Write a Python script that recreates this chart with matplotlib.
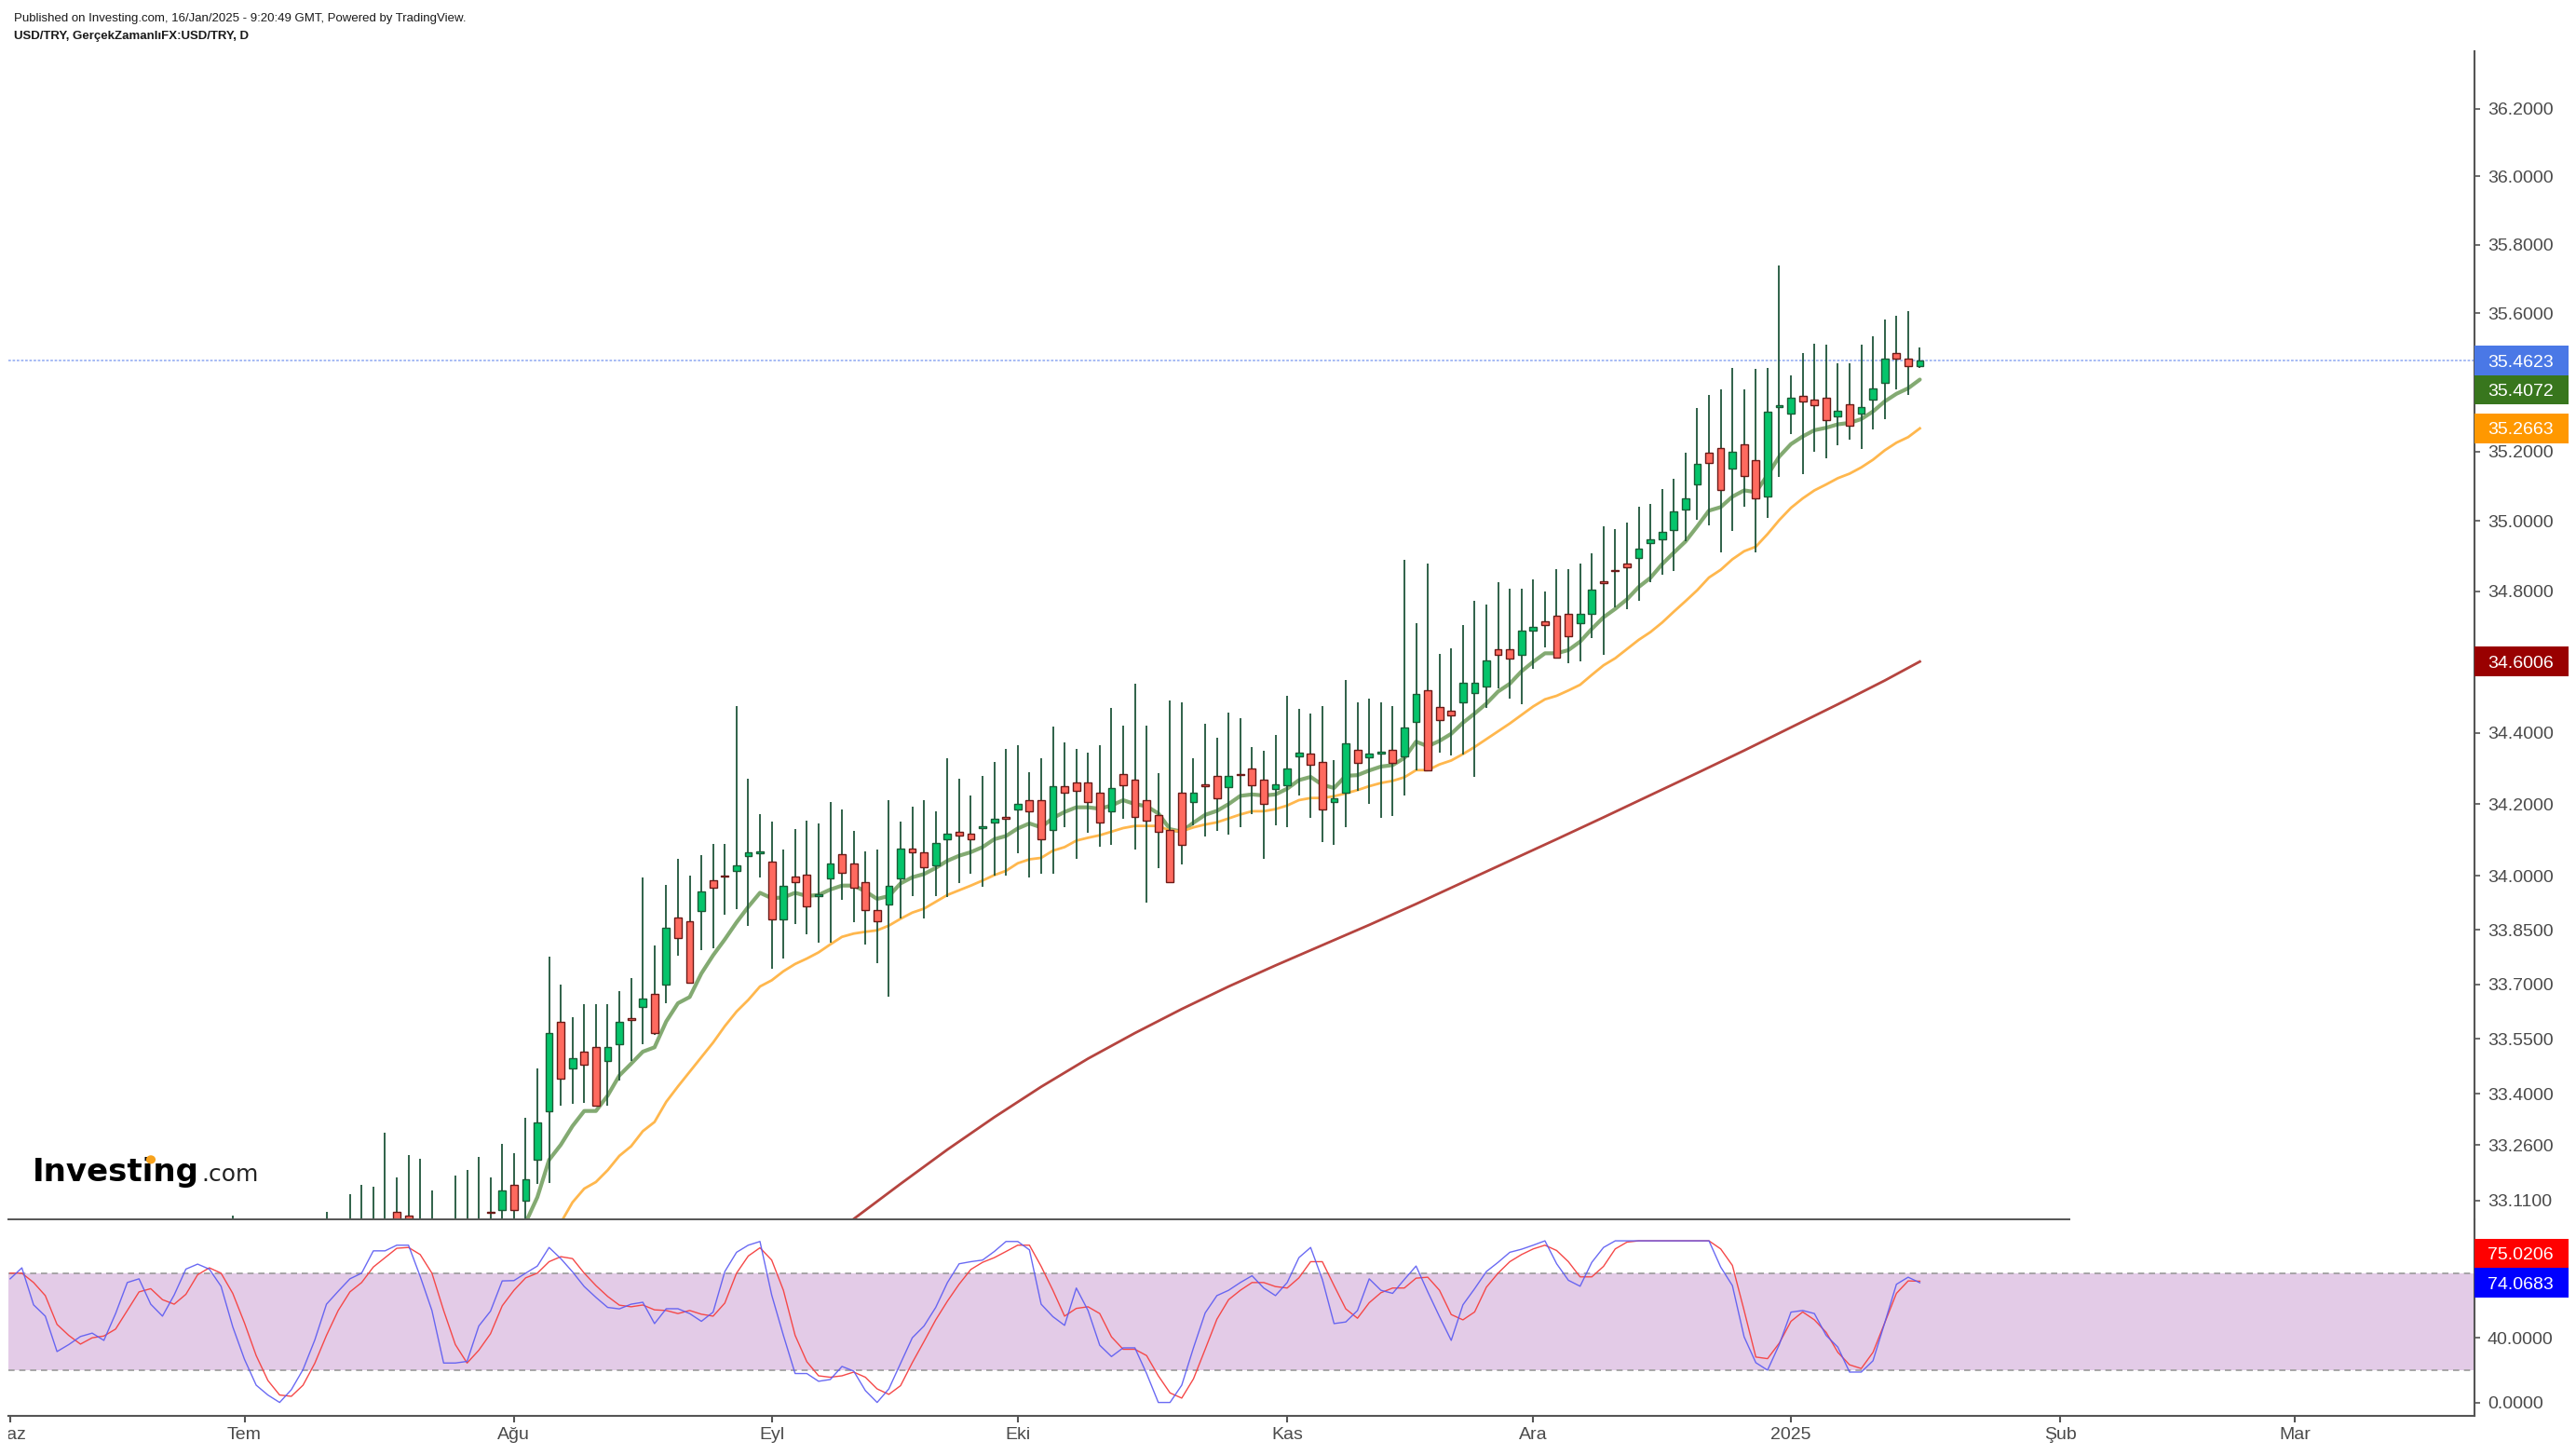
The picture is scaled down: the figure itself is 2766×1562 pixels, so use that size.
import matplotlib
matplotlib.use("Agg")
import matplotlib.pyplot as plt
import numpy as np
from matplotlib.patches import Rectangle, Ellipse
from matplotlib.transforms import IdentityTransform, Bbox, offset_copy
from matplotlib.ticker import FixedLocator, FixedFormatter, NullLocator

plt.rcParams['font.family'] = ['Liberation Sans', 'DejaVu Sans']

# ---------------- data ----------------
# bar index 0 = 3 Jun 2024, one bar per weekday
month_labels = ['Haz', 'Tem', 'Ağu', 'Eyl', 'Eki', 'Kas', 'Ara', '2025', 'Şub', 'Mar']
month_index = [0, 20, 43, 65, 86, 109, 130, 152, 175, 195]

price_ticks = [33.11, 33.26, 33.40, 33.55, 33.70, 33.85, 34.00, 34.20, 34.40, 34.60,
               34.80, 35.00, 35.20, 35.40, 35.60, 35.80, 36.00, 36.20]
price_tick_labels = ['33.1100', '33.2600', '33.4000', '33.5500', '33.7000', '33.8500',
                     '34.0000', '34.2000', '34.4000', '', '34.8000', '35.0000', '35.2000',
                     '', '35.6000', '35.8000', '36.0000', '36.2000']

# OHLC, bars 19..163 (None = hidden below the visible price range)
candle_start = 19
opens = [None, None, None, None, None, None, None, None, None, None,          # 19-28
         None, None, None, None, 33.080, 33.070, None, None, None, None,      # 29-38
         None, None, 33.078, 33.084, 33.151, 33.110,                          # 39-44
         33.221, 33.352, 33.597, 33.469, 33.516, 33.527, 33.490, 33.535, 33.606, 33.637,
         33.674, 33.699, 33.885, 33.875, 33.903, 33.988, 34.000, 34.013, 34.055, 34.064,
         34.040, 33.880, 33.999, 34.004, 33.946, 33.992, 34.061, 34.035, 33.983, 33.906,
         33.920, 33.993, 34.076, 34.066, 34.029, 34.102, 34.123, 34.118, 34.135, 34.148,
         34.163, 34.185, 34.212, 34.212, 34.127, 34.249, 34.260, 34.260, 34.232, 34.180,
         34.285, 34.269, 34.212, 34.170, 34.129, 34.232, 34.206, 34.253, 34.280, 34.248,
         34.284, 34.300, 34.269, 34.243, 34.253, 34.333, 34.342, 34.317, 34.206, 34.233,
         34.353, 34.331, 34.343, 34.353, 34.334, 34.430, 34.520, 34.473, 34.462, 34.486,
         34.513, 34.530, 34.636, 34.636, 34.619, 34.689, 34.715, 34.731, 34.736, 34.709,
         34.736, 34.827, 34.861, 34.879, 34.895, 34.936, 34.947, 34.974, 35.033, 35.105,
         35.195, 35.210, 35.152, 35.220, 35.174, 35.070, 35.329, 35.310, 35.360, 35.350,
         35.355, 35.300, 35.335, 35.310, 35.350, 35.398, 35.484, 35.468, 35.446]
highs = [33.070, None, None, None, None, None, None, None, 33.080, None,      # 19-28
         33.128, 33.153, 33.147, 33.295, 33.173, 33.234, 33.223, 33.137, None, 33.177,  # 29-38
         33.193, 33.228, 33.173, 33.264, 33.237, 33.335,                      # 39-44
         33.468, 33.775, 33.700, 33.610, 33.646, 33.646, 33.646, 33.682, 33.717, 33.995,
         33.808, 33.975, 34.047, 34.000, 34.057, 34.089, 34.089, 34.474, 34.270, 34.171,
         34.150, 34.072, 34.130, 34.155, 34.145, 34.207, 34.186, 34.124, 34.067, 34.072,
         34.212, 34.150, 34.192, 34.212, 34.181, 34.328, 34.270, 34.223, 34.280, 34.318,
         34.355, 34.366, 34.290, 34.328, 34.416, 34.374, 34.355, 34.344, 34.366, 34.470,
         34.420, 34.537, 34.420, 34.287, 34.490, 34.485, 34.328, 34.426, 34.385, 34.457,
         34.442, 34.361, 34.350, 34.395, 34.505, 34.468, 34.453, 34.474, 34.323, 34.548,
         34.485, 34.495, 34.485, 34.474, 34.889, 34.710, 34.878, 34.621, 34.637, 34.705,
         34.774, 34.763, 34.827, 34.806, 34.806, 34.833, 34.800, 34.864, 34.864, 34.880,
         34.907, 34.985, 34.976, 34.997, 35.040, 35.050, 35.093, 35.120, 35.195, 35.325,
         35.362, 35.378, 35.442, 35.378, 35.437, 35.442, 35.740, 35.420, 35.485, 35.512,
         35.507, 35.453, 35.453, 35.507, 35.533, 35.582, 35.593, 35.605, 35.500]
lows = [None] * 26 + [                                                      # 19-44 hidden
         33.154, 33.158, 33.367, 33.372, 33.376, 33.367, 33.367, 33.435, 33.490, 33.535,
         33.561, 33.647, 33.780, 33.704, 33.795, 33.800, 33.893, 33.908, 33.862, 33.996,
         33.743, 33.770, 33.867, 33.837, 33.816, 33.816, 33.934, 33.872, 33.810, 33.759,
         33.666, 33.883, 33.945, 33.883, 33.945, 33.940, 33.980, 34.006, 33.970, 34.001,
         34.001, 34.064, 33.996, 34.006, 34.006, 34.136, 34.048, 34.120, 34.080, 34.085,
         34.158, 34.074, 33.925, 34.022, 33.982, 34.032, 34.142, 34.110, 34.126, 34.115,
         34.136, 34.173, 34.048, 34.142, 34.136, 34.225, 34.162, 34.095, 34.085, 34.136,
         34.236, 34.200, 34.162, 34.168, 34.225, 34.294, 34.295, 34.345, 34.335, 34.340,
         34.277, 34.470, 34.524, 34.497, 34.481, 34.580, 34.640, 34.613, 34.595, 34.600,
         34.668, 34.620, 34.755, 34.750, 34.772, 34.825, 34.846, 34.857, 34.942, 35.004,
         34.988, 34.910, 34.972, 35.040, 34.910, 35.010, 35.127, 35.250, 35.135, 35.200,
         35.180, 35.218, 35.235, 35.207, 35.262, 35.293, 35.380, 35.364, 35.440]
closes = [None] * 22 + [33.077, 33.136, 33.084, 33.167] + [               # 19-44
         33.323, 33.567, 33.442, 33.496, 33.480, 33.367, 33.527, 33.597, 33.604, 33.660,
         33.566, 33.855, 33.828, 33.704, 33.957, 33.966, 33.998, 34.030, 34.066, 34.066,
         33.880, 33.973, 33.982, 33.915, 33.947, 34.035, 34.008, 33.967, 33.905, 33.874,
         33.973, 34.076, 34.065, 34.025, 34.092, 34.118, 34.112, 34.102, 34.137, 34.160,
         34.161, 34.201, 34.180, 34.102, 34.249, 34.233, 34.238, 34.206, 34.149, 34.244,
         34.253, 34.164, 34.154, 34.123, 33.982, 34.087, 34.232, 34.251, 34.217, 34.280,
         34.282, 34.253, 34.200, 34.254, 34.300, 34.344, 34.310, 34.184, 34.217, 34.369,
         34.316, 34.342, 34.345, 34.316, 34.415, 34.510, 34.295, 34.435, 34.450, 34.540,
         34.540, 34.605, 34.619, 34.608, 34.689, 34.700, 34.704, 34.613, 34.672, 34.736,
         34.805, 34.825, 34.857, 34.868, 34.922, 34.948, 34.969, 35.028, 35.065, 35.165,
         35.167, 35.090, 35.200, 35.130, 35.065, 35.315, 35.331, 35.355, 35.345, 35.332,
         35.290, 35.318, 35.275, 35.328, 35.382, 35.468, 35.467, 35.446, 35.4623]

# fast moving average (green), bars 44..163
ma_fast_start = 44
ma_fast = [33.050, 33.119, 33.220, 33.261, 33.312, 33.353, 33.353, 33.395, 33.450, 33.482,
           33.515, 33.527, 33.598, 33.648, 33.665, 33.730, 33.780, 33.824, 33.871, 33.914,
           33.953, 33.938, 33.940, 33.953, 33.944, 33.947, 33.962, 33.973, 33.973, 33.957,
           33.936, 33.944, 33.979, 33.996, 34.005, 34.022, 34.042, 34.056, 34.066, 34.080,
           34.102, 34.111, 34.132, 34.146, 34.135, 34.161, 34.178, 34.191, 34.191, 34.187,
           34.196, 34.211, 34.200, 34.194, 34.174, 34.130, 34.123, 34.148, 34.170, 34.181,
           34.200, 34.223, 34.227, 34.224, 34.227, 34.243, 34.267, 34.276, 34.254, 34.245,
           34.279, 34.281, 34.294, 34.305, 34.309, 34.329, 34.375, 34.362, 34.377, 34.397,
           34.428, 34.454, 34.482, 34.516, 34.538, 34.573, 34.600, 34.624, 34.624, 34.633,
           34.657, 34.693, 34.726, 34.750, 34.777, 34.812, 34.838, 34.877, 34.910, 34.942,
           34.985, 35.030, 35.040, 35.070, 35.088, 35.083, 35.132, 35.185, 35.221, 35.243,
           35.261, 35.268, 35.278, 35.282, 35.293, 35.315, 35.344, 35.366, 35.382, 35.4072]

# medium moving average (orange), bars 47..163
ma_mid_start = 47
ma_mid = [33.050, 33.105, 33.142, 33.160, 33.192, 33.231, 33.257, 33.298, 33.323, 33.378,
          33.420, 33.460, 33.500, 33.540, 33.585, 33.625, 33.657, 33.694, 33.711, 33.736,
          33.756, 33.771, 33.788, 33.810, 33.831, 33.840, 33.845, 33.849, 33.862, 33.881,
          33.898, 33.909, 33.928, 33.947, 33.960, 33.973, 33.987, 34.002, 34.014, 34.035,
          34.046, 34.050, 34.070, 34.080, 34.098, 34.106, 34.113, 34.123, 34.133, 34.139,
          34.139, 34.139, 34.126, 34.124, 34.135, 34.143, 34.149, 34.160, 34.171, 34.180,
          34.180, 34.186, 34.196, 34.211, 34.217, 34.217, 34.222, 34.230, 34.239, 34.250,
          34.259, 34.265, 34.275, 34.295, 34.295, 34.311, 34.322, 34.340, 34.360, 34.382,
          34.404, 34.426, 34.450, 34.474, 34.494, 34.504, 34.519, 34.535, 34.563, 34.590,
          34.610, 34.636, 34.662, 34.684, 34.711, 34.742, 34.772, 34.803, 34.839, 34.861,
          34.891, 34.914, 34.927, 34.963, 35.003, 35.038, 35.065, 35.088, 35.105, 35.123,
          35.136, 35.154, 35.176, 35.203, 35.225, 35.241, 35.2663]

# slow moving average (dark red), read every 4 bars
ma_slow_x = [72, 76, 80, 84, 88, 92, 96, 100, 104, 108, 112, 116, 120, 124,
             128, 132, 136, 140, 144, 148, 152, 156, 160, 163]
ma_slow = [33.060, 33.155, 33.248, 33.336, 33.419, 33.496, 33.566, 33.632, 33.694, 33.752,
           33.808, 33.864, 33.922, 33.982, 34.042, 34.102, 34.163, 34.225, 34.287, 34.350,
           34.415, 34.480, 34.547, 34.6006]

last_price = 35.4623

# stochastic %K (blue) and %D (red), bars 0..163
stoch_k = [76.5, 83.3, 60.4, 53.4, 31.5, 35.8, 40.8, 42.9, 38.4, 55.0,
           74.2, 76.5, 60.8, 53.4, 66.5, 82.5, 85.6, 82.5, 71.9, 46.8,
           26.7, 10.7, 4.6, 0.0, 7.9, 20.4, 38.6, 60.8, 68.8, 76.5,
           80.0, 93.8, 93.8, 97.3, 97.3, 78.0, 56.9, 24.4, 24.4, 25.4,
           47.3, 56.5, 75.2, 75.4, 80.0, 84.4, 95.9, 89.0, 80.8, 71.7,
           65.0, 58.8, 57.9, 60.8, 62.0, 48.8, 58.0, 58.0, 55.0, 50.2,
           55.9, 81.0, 92.9, 97.3, 99.6, 66.5, 41.5, 17.9, 17.9, 13.1,
           14.2, 22.3, 19.4, 7.3, 0.0, 8.4, 24.2, 40.0, 47.3, 58.8,
           74.2, 85.8, 87.1, 88.1, 93.4, 99.6, 99.6, 94.4, 60.8, 53.1,
           47.7, 70.8, 56.9, 35.4, 28.4, 33.8, 33.8, 17.9, 0.0, 0.0,
           10.7, 33.8, 55.4, 66.1, 69.4, 74.2, 78.4, 70.8, 66.1, 74.2,
           89.6, 95.9, 76.1, 48.8, 49.8, 56.9, 76.5, 69.4, 67.5, 76.1,
           84.4, 68.4, 53.1, 38.4, 60.4, 70.4, 81.0, 86.7, 92.9, 94.8,
           97.3, 100.0, 85.8, 75.6, 71.9, 86.7, 95.9, 100.0, 100.0, 100.0,
           100.0, 100.0, 100.0, 100.0, 100.0, 100.0, 83.8, 72.3, 40.6, 24.6,
           20.0, 35.8, 55.9, 56.9, 55.0, 41.5, 34.2, 18.8, 18.8, 25.8,
           49.2, 73.1, 77.5, 74.0683]
stoch_d = [80.0, 80.0, 74.2, 66.1, 48.3, 41.5, 36.1, 40.0, 41.1, 45.4,
           56.9, 68.4, 70.4, 63.6, 60.8, 66.9, 79.0, 83.3, 80.0, 67.5,
           49.2, 29.0, 13.6, 4.6, 3.8, 10.7, 24.2, 41.5, 56.9, 68.4,
           74.2, 83.8, 89.6, 95.4, 95.9, 91.5, 80.0, 56.9, 35.8, 24.4,
           32.3, 42.5, 59.8, 69.4, 77.1, 80.0, 87.1, 90.2, 89.0, 80.0,
           72.3, 65.6, 60.2, 59.2, 60.3, 57.3, 56.9, 55.0, 56.9, 54.6,
           53.4, 61.5, 80.0, 90.6, 95.7, 88.1, 69.4, 41.5, 25.2, 16.5,
           15.6, 16.5, 18.8, 15.6, 8.4, 5.0, 10.4, 24.6, 37.7, 51.1,
           62.7, 73.2, 82.3, 86.7, 89.6, 93.4, 97.3, 97.3, 84.2, 69.4,
           53.4, 58.2, 59.2, 55.0, 40.6, 32.9, 32.9, 29.0, 16.5, 5.9,
           2.7, 14.6, 32.9, 51.5, 63.6, 69.4, 74.2, 74.2, 71.7, 70.8,
           77.1, 87.1, 87.1, 72.3, 57.9, 52.1, 61.7, 67.9, 70.8, 70.8,
           76.9, 77.5, 69.4, 54.4, 51.1, 56.0, 71.3, 80.0, 87.1, 91.5,
           95.0, 97.3, 94.0, 87.1, 77.7, 77.7, 84.2, 95.0, 99.2, 100.0,
           100.0, 100.0, 100.0, 100.0, 100.0, 100.0, 95.0, 84.8, 56.9, 28.1,
           27.1, 36.7, 50.2, 56.0, 51.1, 43.4, 31.0, 23.3, 21.0, 31.0,
           49.2, 67.5, 75.2, 75.0206]

header_line1 = "Published on Investing.com, 16/Jan/2025 - 9:20:49 GMT, Powered by TradingView."
header_line2 = "USD/TRY, GerçekZamanlıFX:USD/TRY, D"

# ---------------- figure / layout ----------------
W, H = 2766, 1562
fig = plt.figure(figsize=(W / 100, H / 100), dpi=100)
fig.patch.set_facecolor('white')

L, R = 9, 2657
T_MAIN, B_MAIN, B_STO = 55, 1309, 1520


def ax_rect(top, bottom):
    return [L / W, 1 - bottom / H, (R - L) / W, (bottom - top) / H]


ax = fig.add_axes(ax_rect(T_MAIN, B_MAIN))
ax2 = fig.add_axes(ax_rect(B_MAIN, B_STO))

XMIN, XMAX = -0.151, 210.34
YMIN, YMAX = 33.059, 36.37
ax.set_xlim(XMIN, XMAX)
ax2.set_xlim(XMIN, XMAX)
ax.set_yscale('log')
ax.set_ylim(YMIN, YMAX)
ax2.set_ylim(-8.3, 113.3)

AXC = '#555555'
TXC = '#4a4a4a'
UP_FILL, UP_EDGE = '#05c46b', '#1b5c36'
DN_FILL, DN_EDGE = '#ff6a5f', '#6b1a17'
WICK = '#1f553a'
FLOOR = 32.9  # below the visible range

# ---- candles ----
bw = 0.62
min_h = 0.004
for k in range(len(highs)):
    x = candle_start + k
    o, h, lo, c = opens[k], highs[k], lows[k], closes[k]
    if h is None:
        continue
    lo_v = lo if lo is not None else FLOOR
    ax.vlines(x, lo_v, h, color=WICK, lw=1.3, zorder=3)
    if o is None:
        continue
    c_v = c if c is not None else FLOOR
    up = c_v > o
    bot = min(o, c_v)
    hh = max(abs(c_v - o), min_h)
    if abs(c_v - o) < min_h:
        bot = (o + c_v) / 2 - min_h / 2
    ax.add_patch(Rectangle((x - bw / 2, bot), bw, hh,
                           facecolor=UP_FILL if up else DN_FILL,
                           edgecolor=UP_EDGE if up else DN_EDGE,
                           lw=1.0, zorder=4))

# ---- moving averages ----
ax.plot(np.arange(ma_fast_start, ma_fast_start + len(ma_fast)), ma_fast,
        color='#7ca66a', lw=3.0, alpha=0.95, zorder=2, solid_capstyle='round',
        solid_joinstyle='round')
ax.plot(np.arange(ma_mid_start, ma_mid_start + len(ma_mid)), ma_mid,
        color='#ffb74d', lw=2.0, zorder=2, solid_joinstyle='round')
ax.plot(ma_slow_x, ma_slow, color='#b5443f', lw=2.0, zorder=2, solid_joinstyle='round')

# current price line
ax.axhline(last_price, color='#9fb5f3', lw=1.3, ls=(0, (1.5, 1)), zorder=1)

# separator line between panes
ax.plot([0, (2222 - L) / (R - L)], [0, 0], transform=ax.transAxes, color=AXC,
        lw=1.4, clip_on=False, zorder=6)

# ---- stochastic pane ----
ax2.axhspan(20, 80, color='#e3cbe7', zorder=0, lw=0)
for lvl in (20, 80):
    ax2.axhline(lvl, color='#9a9a9a', lw=1.2, ls=(0, (4, 3)), zorder=1)
xs_st = np.arange(len(stoch_k))
ax2.plot(xs_st, stoch_d, color='#f54848', lw=1.0, zorder=3)
ax2.plot(xs_st, stoch_k, color='#5a5af2', lw=1.0, zorder=3, alpha=0.9)

# ---- axes styling ----
for a in (ax, ax2):
    for s in a.spines.values():
        s.set_visible(False)
    a.spines['right'].set_visible(True)
    a.spines['right'].set_color(AXC)
    a.spines['right'].set_linewidth(1.5)
    a.patch.set_alpha(0)
ax2.spines['bottom'].set_visible(True)
ax2.spines['bottom'].set_color(AXC)
ax2.spines['bottom'].set_linewidth(1.5)

ax.set_xticks([])
ax.yaxis.tick_right()
ax.yaxis.set_major_locator(FixedLocator(price_ticks))
ax.yaxis.set_major_formatter(FixedFormatter(price_tick_labels))
ax.yaxis.set_minor_locator(NullLocator())
ax.tick_params(axis='y', which='major', direction='out', length=4, width=1.2,
               colors=AXC, labelcolor=TXC, labelsize=14, pad=6)

ax2.yaxis.tick_right()
ax2.set_yticks([0, 40])
ax2.set_yticklabels(['0.0000', '40.0000'])
ax2.tick_params(axis='y', direction='out', length=4, width=1.2,
                colors=AXC, labelcolor=TXC, labelsize=14, pad=6)
TICK_LEN, TICK_PAD = 4.8, 4
ax2.set_xticks(month_index)
ax2.set_xticklabels([''] + month_labels[1:])
ax2.tick_params(axis='x', direction='out', length=TICK_LEN, width=1.5,
                colors=AXC, labelcolor=TXC, labelsize=14, pad=TICK_PAD)

# first month label is cut by the left edge of the chart (as in the original)
haz_tr = offset_copy(ax2.get_xaxis_transform(), fig=fig, x=0, y=-(TICK_LEN + TICK_PAD),
                     units='points')
t_haz = fig.text(month_index[0], 0, month_labels[0], transform=haz_tr, ha='center',
                 va='top', fontsize=14, color=TXC, clip_on=True)
t_haz.set_clip_box(Bbox.from_extents(L, 0, W, H))

# ---- value labels in the right margin ----
BW_, BH_ = 101, 31.6
idt = IdentityTransform()


def value_box(yc, text, fc):
    fig.add_artist(Rectangle((R, yc - BH_ / 2), BW_, BH_, transform=idt,
                             facecolor=fc, edgecolor='none', zorder=10))
    fig.text(R + 14.5, yc, text, transform=idt, color='white', fontsize=14,
             va='center_baseline', ha='left', zorder=11)


price_labels = [(last_price, '#4a78e6'), (ma_fast[-1], '#38761d'),
                (ma_mid[-1], '#ff9800'), (ma_slow[-1], '#990000')]
prev = None
for val, col in price_labels:
    yc = ax.transData.transform((0, val))[1]
    if prev is not None and yc > prev - BH_:
        yc = prev - BH_
    value_box(yc, f'{val:.4f}', col)
    prev = yc

yk = ax2.transData.transform((0, stoch_k[-1]))[1]
yd = ax2.transData.transform((0, stoch_d[-1]))[1]
yd = max(yd, yk + BH_)
value_box(yd, f'{stoch_d[-1]:.4f}', '#ff0000')
value_box(yk, f'{stoch_k[-1]:.4f}', '#0000ff')

# ---- header ----
fig.text(15, H - 23, header_line1, transform=idt, fontsize=9.5, color='#1a1a1a',
         va='baseline', ha='left')
fig.text(15, H - 42, header_line2, transform=idt, fontsize=9.5, color='#1a1a1a',
         fontweight='bold', va='baseline', ha='left')

# ---- Investing.com logo ----
bx, by = 35, H - 1268
LOGO_FS = 24.5
logo_kw = dict(transform=idt, fontfamily='DejaVu Sans', fontweight='bold', fontsize=LOGO_FS,
               color='black', va='baseline', ha='left')
t_inv = fig.text(bx, by, 'Investing', zorder=12, **logo_kw)
renderer = fig.canvas.get_renderer()


def text_right(s):
    tt = fig.text(bx, by, s, **logo_kw)
    e = tt.get_window_extent(renderer)
    tt.remove()
    return e.x1


x_i = text_right('Investi')
em = LOGO_FS / 72 * 100
fig.add_artist(Ellipse((x_i - 0.10 * em, by + 0.68 * em), 0.30 * em, 0.27 * em,
                       transform=idt, facecolor='#f7a21c', edgecolor='none', zorder=13))
x_end = t_inv.get_window_extent(renderer).x1
fig.text(x_end + 2, by, '.com', transform=idt, fontfamily='DejaVu Sans', fontsize=18,
         color='#222222', va='baseline', ha='left', zorder=12)

fig.savefig('out.png', dpi=100, facecolor='white')
